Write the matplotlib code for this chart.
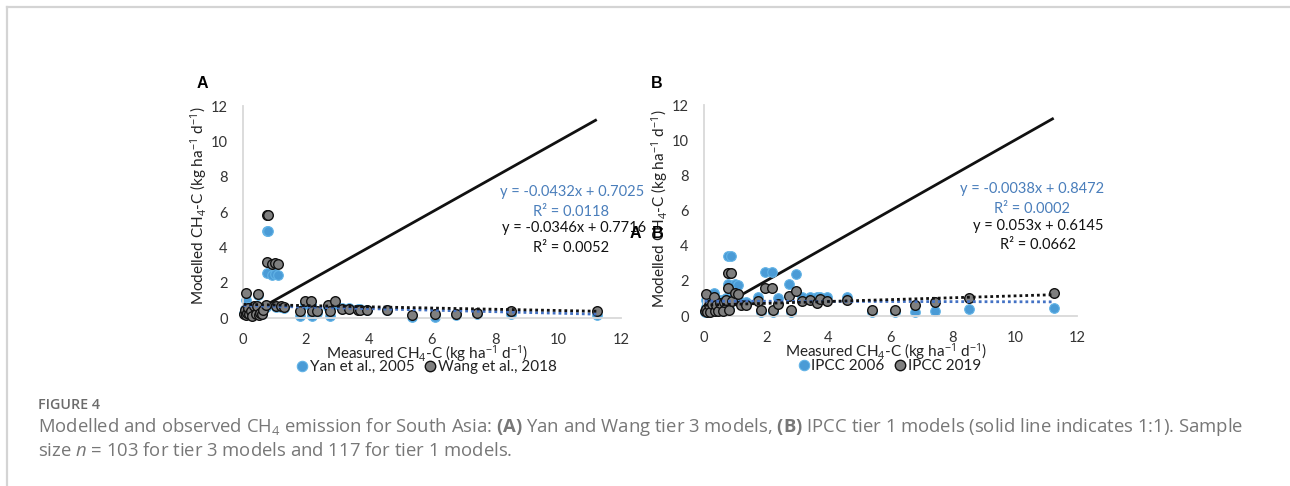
import matplotlib
matplotlib.use('Agg')
import matplotlib.pyplot as plt
from matplotlib.lines import Line2D
import numpy as np

plt.rcParams['mathtext.fontset'] = 'custom'
plt.rcParams['mathtext.rm'] = 'Open Sans'
plt.rcParams['mathtext.it'] = 'Open Sans:italic'
plt.rcParams['mathtext.bf'] = 'Open Sans:bold'
plt.rcParams['font.family'] = ['Lato', 'DejaVu Sans']

# ---------------- data ----------------
a_measured = [0.02, 0.05, 0.08, 0.10, 0.12, 0.15, 0.20, 0.25, 0.30, 0.35, 0.40, 0.45, 0.48,
              0.50, 0.55, 0.60, 0.65, 0.72, 0.76, 0.80, 0.77, 0.92, 1.00, 1.10, 1.05, 1.20,
              1.30, 1.81, 1.98, 2.15, 2.18, 2.34, 2.69, 2.76, 2.93, 3.13, 3.37, 3.66, 3.72,
              3.93, 4.58, 5.36, 6.11, 6.77, 7.42, 8.51, 11.23]
a_yan = [0.30, 0.50, 1.00, 0.20, 0.40, 0.60, 0.30, 0.50, 0.20, 0.60, 0.30, 0.60, 1.30,
         0.20, 0.40, 0.25, 0.50, 0.60, 4.92, 4.92, 2.52, 2.45, 2.50, 2.45, 0.60, 0.60,
         0.55, 0.10, 0.80, 0.75, 0.10, 0.30, 0.60, 0.10, 0.80, 0.55, 0.55, 0.50, 0.50,
         0.45, 0.45, 0.08, 0.08, 0.18, 0.20, 0.20, 0.15]
a_wang = [0.25, 0.45, 1.43, 0.15, 0.30, 0.55, 0.20, 0.40, 0.10, 0.70, 0.20, 0.70, 1.36,
          0.15, 0.30, 0.20, 0.45, 0.74, 5.82, 5.82, 3.15, 3.05, 3.10, 3.05, 0.70, 0.70,
          0.65, 0.40, 0.98, 0.94, 0.40, 0.40, 0.75, 0.40, 0.98, 0.50, 0.51, 0.45, 0.45,
          0.45, 0.45, 0.17, 0.20, 0.25, 0.30, 0.38, 0.40]

b_measured = [0.02, 0.05, 0.08, 0.10, 0.15, 0.20, 0.25, 0.32, 0.35, 0.40, 0.45, 0.50, 0.60,
              0.65, 0.70, 0.76, 0.78, 0.86, 0.80, 0.90, 1.00, 1.10, 1.20, 1.35, 1.73, 1.84,
              1.97, 2.18, 2.22, 2.38, 2.74, 2.81, 2.95, 3.16, 3.40, 3.62, 3.72, 3.96, 4.60,
              5.39, 6.14, 6.80, 7.43, 8.54, 11.25]
b_ipcc2006 = [0.20, 0.90, 0.50, 0.20, 0.70, 0.30, 0.90, 1.30, 0.40, 0.80, 0.30, 0.90, 0.40,
              0.90, 1.00, 1.80, 3.43, 3.43, 0.40, 1.00, 1.80, 1.75, 0.80, 0.80, 1.10, 0.20,
              2.50, 2.50, 0.20, 1.00, 1.83, 0.20, 2.37, 1.10, 1.10, 1.10, 1.10, 1.10, 1.10,
              0.20, 0.20, 0.25, 0.30, 0.38, 0.45]
b_ipcc2019 = [0.30, 1.25, 0.40, 0.20, 0.60, 0.25, 0.70, 1.10, 0.30, 0.60, 0.30, 0.75, 0.30,
              0.80, 0.90, 1.57, 2.43, 2.43, 0.35, 0.85, 1.30, 1.25, 0.60, 0.60, 0.85, 0.34,
              1.57, 1.57, 0.34, 0.70, 1.15, 0.34, 1.45, 0.85, 0.90, 0.73, 0.95, 0.84, 0.90,
              0.34, 0.34, 0.63, 0.80, 1.00, 1.29]

# trendline coefficients (slope, intercept, R2) as printed on the chart
a_yan_fit = (-0.0432, 0.7025, 0.0118)
a_wang_fit = (-0.0346, 0.7716, 0.0052)
b_2006_fit = (-0.0038, 0.8472, 0.0002)
b_2019_fit = (0.053, 0.6145, 0.0662)

a_labels = ['Yan et al., 2005', 'Wang et al., 2018']
b_labels = ['IPCC 2006', 'IPCC 2019']
axis_ticks = [0, 2, 4, 6, 8, 10, 12]

# ---------------- style ----------------
W, H = 1290, 486
BLUE_M = '#4a9bd6'
BLUE_E = '#62b3e6'
BLUE_T = '#4a7ebb'
BLUE_L = '#4472c4'
GRAY_M = '#7f7f7f'
DARK = '#111111'

fig = plt.figure(figsize=(W / 100, H / 100), dpi=100)


def fx(px):
    return px / W


def fy(py):
    return 1 - py / H


# frame lines of the figure box
fig.add_artist(Line2D([fx(7), fx(7)], [0, fy(7.5)], color='#d4d4d4', lw=1.6))
fig.add_artist(Line2D([fx(7), 1], [fy(7.5), fy(7.5)], color='#d4d4d4', lw=1.6))

XLAB = r'Measured CH$_4$-C (kg ha$^{-1}$ d$^{-1}$)'
YLAB = r'Modelled CH$_4$-C (kg ha$^{-1}$ d$^{-1}$)'


def panel(rect, xs, y1, y2, f1, f2, ylab_y):
    ax = fig.add_axes(rect)
    ax.set_xlim(0, 12)
    ax.set_ylim(0, 12)
    ax.set_xticks(axis_ticks)
    ax.set_yticks(axis_ticks)
    for s in ['top', 'right']:
        ax.spines[s].set_visible(False)
    for s in ['left', 'bottom']:
        ax.spines[s].set_color('#d9d9d9')
        ax.spines[s].set_linewidth(1.3)
    ax.tick_params(length=0, pad=11, labelsize=10.5, colors='#333333')
    xs = np.asarray(xs)
    # 1:1 line
    ax.plot([0, xs.max()], [0, xs.max()], color=DARK, lw=2.0, zorder=1,
            solid_capstyle='butt')
    ax.scatter(xs, y1, s=48, color=BLUE_M, edgecolors=BLUE_E, linewidths=0.8,
               zorder=2, clip_on=False)
    ax.scatter(xs, y2, s=48, color=GRAY_M, edgecolors=DARK, linewidths=1.0,
               zorder=3, clip_on=False)
    xx = np.array([xs.min(), xs.max()])
    ax.plot(xx, f1[0] * xx + f1[1], color=BLUE_L, lw=2.0, ls=(0, (1, 1.1)),
            dash_capstyle='butt', zorder=5)
    ax.plot(xx, f2[0] * xx + f2[1], color=DARK, lw=2.0, ls=(0, (1, 1.1)),
            dash_capstyle='butt', zorder=5)
    ax.set_xlabel(XLAB, fontsize=11, color='#222222')
    ax.set_ylabel(YLAB, fontsize=11, color='#222222')
    ax.xaxis.set_label_coords(0.488, -0.12)
    ax.yaxis.set_label_coords(-0.088, ylab_y)
    return ax


axA = panel([fx(243), fy(318), (621 - 243) / W, (318 - 106) / H],
            a_measured, a_yan, a_wang, a_yan_fit, a_wang_fit, 0.53)
axB = panel([fx(704), fy(316), (1077 - 704) / W, (316 - 105) / H],
            b_measured, b_ipcc2006, b_ipcc2019, b_2006_fit, b_2019_fit, 0.51)


def eq(fit):
    sign = '+' if fit[1] >= 0 else '-'
    return f'y = {fit[0]:g}x {sign} {abs(fit[1]):g}'


def r2(fit):
    return f'R² = {fit[2]:.4f}'


TXT = dict(fontsize=10.5, ha='center', va='center')
# panel A equations
fig.text(fx(572), fy(192), eq(a_yan_fit), color=BLUE_T, **TXT)
fig.text(fx(571), fy(212.5), r2(a_yan_fit), color=BLUE_T, **TXT)
fig.text(fx(574), fy(227.5), eq(a_wang_fit), color=DARK, **TXT)
fig.text(fx(571), fy(247.5), r2(a_wang_fit), color=DARK, **TXT)
# panel B equations
fig.text(fx(1032), fy(189), eq(b_2006_fit), color=BLUE_T, **TXT)
fig.text(fx(1032), fy(208.5), r2(b_2006_fit), color=BLUE_T, **TXT)
fig.text(fx(1038), fy(225.5), eq(b_2019_fit), color=DARK, **TXT)
fig.text(fx(1038), fy(245), r2(b_2019_fit), color=DARK, **TXT)

# panel letters
LET = dict(family=['Liberation Sans', 'DejaVu Sans'], weight='bold', fontsize=11.5,
           ha='center', va='center', color='#000000')
fig.text(fx(202), fy(83), 'A', **LET)
fig.text(fx(657), fy(83), 'B', **LET)
fig.text(fx(635), fy(233), 'A', **LET)
fig.text(fx(658), fy(233), 'B', **LET)

# legends
def legend(labels, cx, cy):
    h = [Line2D([], [], ls='none', marker='o', ms=7.5, mfc=BLUE_M, mec=BLUE_E, mew=0.8),
         Line2D([], [], ls='none', marker='o', ms=7.5, mfc=GRAY_M, mec=DARK, mew=1.0)]
    fig.legend(h, labels, loc='center', bbox_to_anchor=(fx(cx), fy(cy)), ncol=2,
               frameon=False, fontsize=11, handletextpad=0.05, columnspacing=0.6,
               handlelength=0.9, borderpad=0, labelcolor='#222222')


legend(a_labels, 426, 367)
legend(b_labels, 889, 366)

# caption
fig.text(fx(38), fy(405), 'FIGURE 4', family=['Open Sans', 'DejaVu Sans'], weight='semibold',
         fontsize=10.3, color='#6b6b6b', ha='left', va='center')
CAP = dict(family=['Open Sans', 'DejaVu Sans'], fontsize=13.3, color='#777777',
           ha='left', va='center')
fig.text(fx(38), fy(427),
         r'Modelled and observed CH$_4$ emission for South Asia: $\mathbf{(A)}$ Yan and Wang tier 3 '
         r'models, $\mathbf{(B)}$ IPCC tier 1 models (solid line indicates 1:1). Sample', **CAP)
fig.text(fx(38), fy(451), r'size $n$ = 103 for tier 3 models and 117 for tier 1 models.', **CAP)

fig.savefig('out.png', dpi=100)
